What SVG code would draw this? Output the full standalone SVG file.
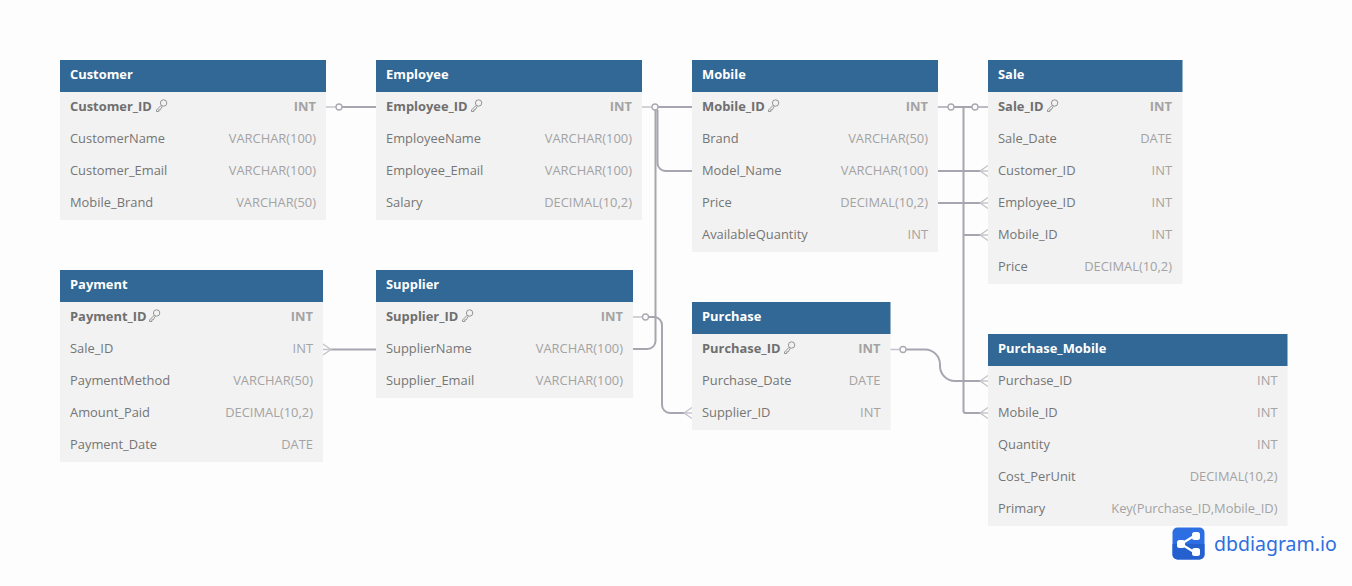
<svg xmlns="http://www.w3.org/2000/svg" width="1352" height="586" viewBox="0 0 1352 586">
<style>
text{font-family:"Open Sans","Liberation Sans",sans-serif;font-size:12.900px}
.h{fill:#316896}.r{fill:#f2f2f2}
.t{fill:#fff;font-weight:700}
.n{fill:#757575}.b{fill:#6f6f6f;font-weight:700}
.y{fill:#a3a3a3;text-anchor:end}.yb{fill:#a3a3a3;font-weight:700;text-anchor:end}
.c{fill:none;stroke:#a6a6b0;stroke-width:2}
.l{fill:none;stroke:#c4c4cb;stroke-width:1.500}
.o{fill:#fdfdfd;stroke:#a9a9b3;stroke-width:1.300}
.f{fill:none;stroke:#c0c0c8;stroke-width:1.200}
.k{fill:none;stroke:#8a8a8a;stroke-width:.9}
</style>
<defs>
<g id="key"><circle cx="6.600" cy="-3" r="3.200" class="k"/><path d="M4.300 -.8 L-.5 4 L-.5 5.500 L1.800 5.500 L1.800 3.800 L3.300 3.800 L5.300 .2" class="k"/></g>
</defs>
<rect width="1352" height="586" fill="#fdfdfd"/>
<g id="connectors">
<path class="c" d="M342 107H376"/>
<path class="c" d="M658 107H692"/>
<path class="c" d="M938 107H988"/>
<path class="c" d="M655.500 110V341a8 8 0 0 1-8 8H633"/>
<path class="c" d="M657.500 110V163a8 8 0 0 0 8 8H692"/>
<path class="c" d="M938 171H980"/>
<path class="c" d="M938 203H980"/>
<path class="c" d="M963.500 107V411a2 2 0 0 0 2 2H980"/>
<path class="c" d="M963.500 235H980"/>
<path class="c" d="M649 317H654a8 8 0 0 1 8 8V405a8 8 0 0 0 8 8H684"/>
<path class="c" d="M906 349.500H925a15 15 0 0 1 15 15V366a15 15 0 0 0 15 15H980"/>
<path class="c" d="M331 349.500H376"/>
<path class="l" d="M326 107H336M642 107H652M938 107H948M978 107H988M633 317H642M890 349.500H900M980 171H988M980 203H988M980 235H988M980 381H988M980 413H988M684 413H692M323 349.500H331"/>
<circle class="o" cx="339" cy="107" r="3"/>
<circle class="o" cx="655" cy="107" r="3"/>
<circle class="o" cx="951" cy="107" r="3"/>
<circle class="o" cx="975" cy="107" r="3"/>
<circle class="o" cx="645.500" cy="317" r="3"/>
<circle class="o" cx="903" cy="349.500" r="3"/>
<path class="f" d="M988 165.500L980 171L988 176.500M988 197.500L980 203L988 208.500M988 229.500L980 235L988 240.500M988 375.500L980 381L988 386.500M988 407.500L980 413L988 418.500M692 407.500L684 413L692 418.500M323 344L331 349.500L323 355"/>
</g>
<g id="customer">
<rect class="r" x="60" y="92" width="266" height="128"/><rect class="h" x="60" y="60" width="266" height="32"/>
<text class="t" x="70" y="79">Customer</text>
<text class="b" x="70" y="111">Customer_ID</text><use href="#key" x="157" y="106"/><text class="yb" x="316" y="111">INT</text>
<text class="n" x="70" y="143">CustomerName</text><text class="y" x="316" y="143">VARCHAR(100)</text>
<text class="n" x="70" y="175">Customer_Email</text><text class="y" x="316" y="175">VARCHAR(100)</text>
<text class="n" x="70" y="207">Mobile_Brand</text><text class="y" x="316" y="207">VARCHAR(50)</text>
</g>
<g id="employee">
<rect class="r" x="376" y="92" width="266" height="128"/><rect class="h" x="376" y="60" width="266" height="32"/>
<text class="t" x="386" y="79">Employee</text>
<text class="b" x="386" y="111">Employee_ID</text><use href="#key" x="472" y="106"/><text class="yb" x="632" y="111">INT</text>
<text class="n" x="386" y="143">EmployeeName</text><text class="y" x="632" y="143">VARCHAR(100)</text>
<text class="n" x="386" y="175">Employee_Email</text><text class="y" x="632" y="175">VARCHAR(100)</text>
<text class="n" x="386" y="207">Salary</text><text class="y" x="632" y="207">DECIMAL(10,2)</text>
</g>
<g id="mobile">
<rect class="r" x="692" y="92" width="246" height="160"/><rect class="h" x="692" y="60" width="246" height="32"/>
<text class="t" x="702" y="79">Mobile</text>
<text class="b" x="702" y="111">Mobile_ID</text><use href="#key" x="769" y="106"/><text class="yb" x="928" y="111">INT</text>
<text class="n" x="702" y="143">Brand</text><text class="y" x="928" y="143">VARCHAR(50)</text>
<text class="n" x="702" y="175">Model_Name</text><text class="y" x="928" y="175">VARCHAR(100)</text>
<text class="n" x="702" y="207">Price</text><text class="y" x="928" y="207">DECIMAL(10,2)</text>
<text class="n" x="702" y="239">AvailableQuantity</text><text class="y" x="928" y="239">INT</text>
</g>
<g id="sale">
<rect class="r" x="988" y="92" width="194.500" height="192"/><rect class="h" x="988" y="60" width="194.500" height="32"/>
<text class="t" x="998" y="79">Sale</text>
<text class="b" x="998" y="111">Sale_ID</text><use href="#key" x="1048" y="106"/><text class="yb" x="1172" y="111">INT</text>
<text class="n" x="998" y="143">Sale_Date</text><text class="y" x="1172" y="143">DATE</text>
<text class="n" x="998" y="175">Customer_ID</text><text class="y" x="1172" y="175">INT</text>
<text class="n" x="998" y="207">Employee_ID</text><text class="y" x="1172" y="207">INT</text>
<text class="n" x="998" y="239">Mobile_ID</text><text class="y" x="1172" y="239">INT</text>
<text class="n" x="998" y="271">Price</text><text class="y" x="1172" y="271">DECIMAL(10,2)</text>
</g>
<g id="payment">
<rect class="r" x="60" y="302" width="263" height="160"/><rect class="h" x="60" y="270" width="263" height="32"/>
<text class="t" x="70" y="289">Payment</text>
<text class="b" x="70" y="321">Payment_ID</text><use href="#key" x="150" y="316"/><text class="yb" x="313" y="321">INT</text>
<text class="n" x="70" y="353">Sale_ID</text><text class="y" x="313" y="353">INT</text>
<text class="n" x="70" y="385">PaymentMethod</text><text class="y" x="313" y="385">VARCHAR(50)</text>
<text class="n" x="70" y="417">Amount_Paid</text><text class="y" x="313" y="417">DECIMAL(10,2)</text>
<text class="n" x="70" y="449">Payment_Date</text><text class="y" x="313" y="449">DATE</text>
</g>
<g id="supplier">
<rect class="r" x="376" y="302" width="257" height="96"/><rect class="h" x="376" y="270" width="257" height="32"/>
<text class="t" x="386" y="289">Supplier</text>
<text class="b" x="386" y="321">Supplier_ID</text><use href="#key" x="463" y="316"/><text class="yb" x="623" y="321">INT</text>
<text class="n" x="386" y="353">SupplierName</text><text class="y" x="623" y="353">VARCHAR(100)</text>
<text class="n" x="386" y="385">Supplier_Email</text><text class="y" x="623" y="385">VARCHAR(100)</text>
</g>
<g id="purchase">
<rect class="r" x="692" y="334" width="198.500" height="96"/><rect class="h" x="692" y="302" width="198.500" height="32"/>
<text class="t" x="702" y="321">Purchase</text>
<text class="b" x="702" y="353">Purchase_ID</text><use href="#key" x="785" y="348"/><text class="yb" x="880.500" y="353">INT</text>
<text class="n" x="702" y="385">Purchase_Date</text><text class="y" x="880.500" y="385">DATE</text>
<text class="n" x="702" y="417">Supplier_ID</text><text class="y" x="880.500" y="417">INT</text>
</g>
<g id="purchase_mobile">
<rect class="r" x="988" y="366" width="299.500" height="160"/><rect class="h" x="988" y="334" width="299.500" height="32"/>
<text class="t" x="998" y="353">Purchase_Mobile</text>
<text class="n" x="998" y="385">Purchase_ID</text><text class="y" x="1277.500" y="385">INT</text>
<text class="n" x="998" y="417">Mobile_ID</text><text class="y" x="1277.500" y="417">INT</text>
<text class="n" x="998" y="449">Quantity</text><text class="y" x="1277.500" y="449">INT</text>
<text class="n" x="998" y="481">Cost_PerUnit</text><text class="y" x="1277.500" y="481">DECIMAL(10,2)</text>
<text class="n" x="998" y="513">Primary</text><text class="y" x="1277.500" y="513">Key(Purchase_ID,Mobile_ID)</text>
</g>
<g id="logo">
<rect x="1172.500" y="527.500" width="32" height="32" rx="5" fill="#2d6fe3"/>
<path d="M1172.500 544H1204.500V554.500a5 5 0 0 1-5 5H1177.500a5 5 0 0 1-5-5Z" fill="#2560cf"/>
<path d="M1194 536L1181 544L1194 552" fill="none" stroke="#fff" stroke-width="2.200"/>
<rect x="1177" y="540" width="8" height="8" rx="2.500" fill="#fff"/>
<rect x="1192" y="532" width="8" height="8" rx="2.500" fill="#fff"/>
<rect x="1192" y="548" width="8" height="8" rx="2.500" fill="#fff"/>
<text x="1214" y="551" style="font-size:19.500px;font-family:'Noto Sans','Open Sans',sans-serif" fill="#2f6fde">dbdiagram.io</text>
</g>
</svg>
